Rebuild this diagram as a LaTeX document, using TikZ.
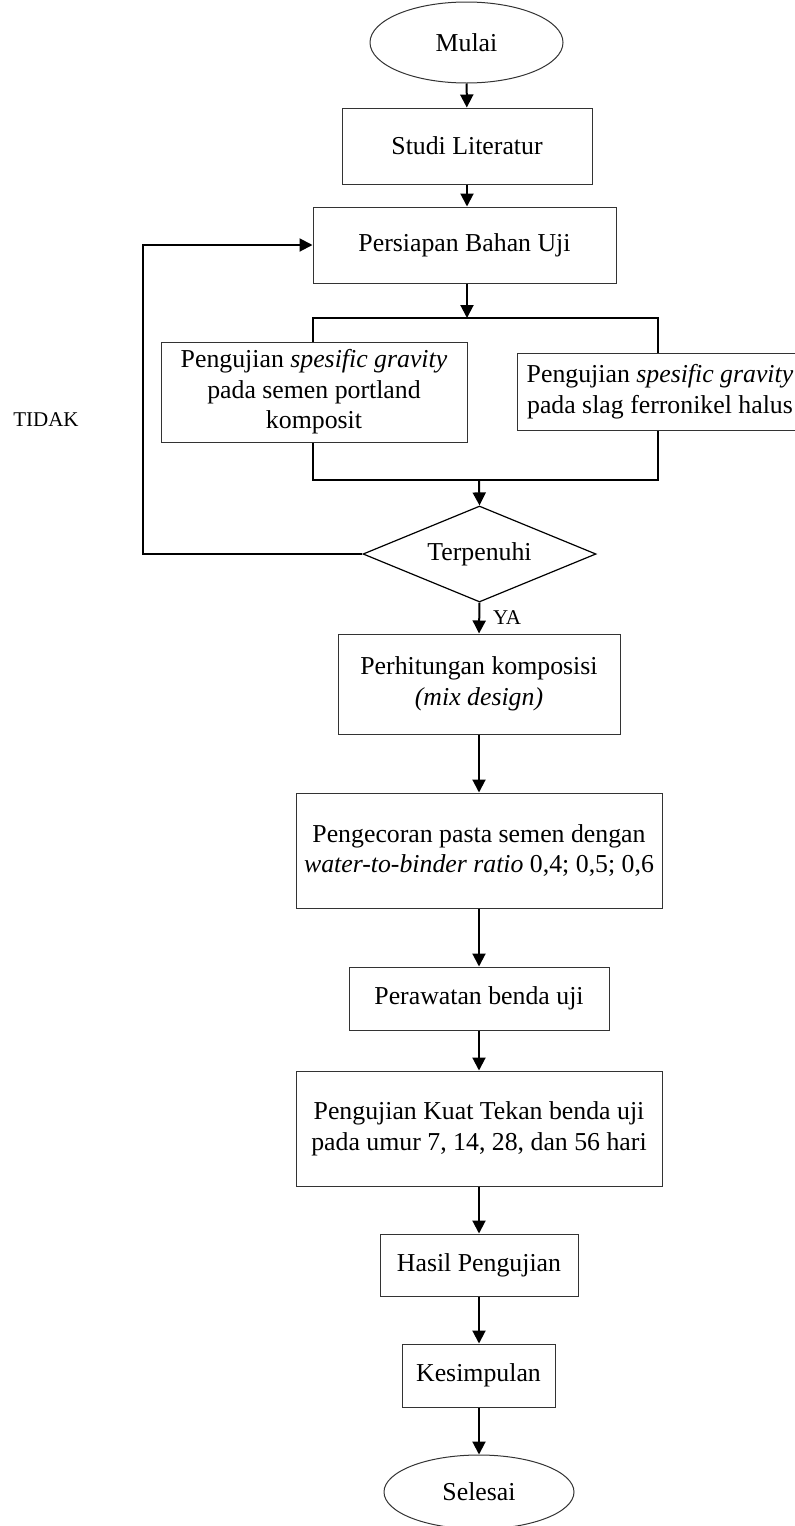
\documentclass[tikz,border=0pt]{standalone}
\usepackage{fontspec}
\setmainfont{Liberation Serif}
\usepackage{tikz}
\usetikzlibrary{arrows.meta,shapes.geometric,calc,positioning}
\tikzstyle{process} = [rectangle, draw=black!80, line width=0.5pt, fill=white, align=center, inner sep=0pt, font=\fontsize{12.9pt}{15.3pt}\selectfont]
\tikzstyle{startstop} = [ellipse, draw=black!80, line width=0.5pt, fill=white, inner sep=0pt, font=\fontsize{12.9pt}{15.3pt}\selectfont]
\tikzstyle{decision} = [diamond, aspect=2.4, draw=black, line width=0.6pt, fill=white, inner sep=0pt, font=\fontsize{12.9pt}{15.3pt}\selectfont]
\tikzstyle{smalltext} = [inner sep=0pt, font=\fontsize{10.5pt}{12pt}\selectfont]
\tikzstyle{line} = [black, draw, line width=1pt]
\tikzstyle{arrow} = [black, draw, line width=1pt, -{Triangle[width=6.5pt,length=6.5pt]}]

\begin{document}
\begin{tikzpicture}[x=0.5pt, y=-0.5pt]
            \useasboundingbox (0,0) rectangle (794,1526);

            \node[startstop, minimum width=96.5pt, minimum height=40.5pt] (Mulai) at (466.5,42.5) {Mulai};
            \node[process, minimum width=125pt, minimum height=38pt] (Studi) at (467,146) {Studi Literatur};
            \node[process, minimum width=151.5pt, minimum height=38pt] (Persiapan) at (464.5,245) {Persiapan Bahan Uji};

            % kotak pengujian bahan
            \coordinate (BrNW) at (313,318);
            \coordinate (BrSE) at (658,480);
            \coordinate (BrOut) at (479,480);
            \path [line] (BrNW) rectangle (BrSE);
            \node[process, minimum width=153pt, minimum height=50pt] (UjiSemen) at (314,392)
                {Pengujian \textit{spesific gravity}\\pada semen portland\\komposit};
            \node[process, minimum width=143pt, minimum height=38.5pt] (UjiSlag) at (660,391.5)
                {Pengujian \textit{spesific gravity}\\pada slag ferronikel halus};

            \node[decision, minimum width=116.5pt, minimum height=48pt] (Cek) at (479.5,554) {Terpenuhi};
            \coordinate (Balik) at (143,554);
            \node[smalltext] (Tidak) at (46,420) {TIDAK};
            \node[smalltext] (Ya) at (507,618) {YA};

            \node[process, minimum width=141pt, minimum height=50pt] (MixDesign) at (479,684)
                {Perhitungan komposisi\\\textit{(mix design)}};
            \node[process, minimum width=183pt, minimum height=57.5pt] (Cor) at (479,850.5)
                {Pengecoran pasta semen dengan\\\textit{water-to-binder ratio} 0,4; 0,5; 0,6};
            \node[process, minimum width=130pt, minimum height=31.5pt] (Rawat) at (479,998.5) {Perawatan benda uji};
            \node[process, minimum width=183pt, minimum height=57.5pt] (Tekan) at (479,1128.5)
                {Pengujian Kuat Tekan benda uji\\pada umur 7, 14, 28, dan 56 hari};
            \node[process, minimum width=99pt, minimum height=31pt] (Hasil) at (479,1265) {Hasil Pengujian};
            \node[process, minimum width=76.5pt, minimum height=31.5pt] (Simpul) at (478.5,1375.5) {Kesimpulan};
            \node[startstop, minimum width=95pt, minimum height=37pt] (Selesai) at (479,1492) {Selesai};

            % panah
            \draw [arrow] (Mulai) -- (Studi);
            \draw [arrow] (Studi) -- (Studi |- Persiapan.north);
            \draw [arrow] (Studi |- Persiapan.south) -- (Studi |- BrNW);
            \draw [arrow] (BrOut) -- (Cek.north);
            \draw [arrow] (Cek.west) -- (Balik) |- (Persiapan.west);
            \draw [arrow] (Cek.south) -- (MixDesign.north);
            \draw [arrow] (MixDesign) -- (Cor);
            \draw [arrow] (Cor) -- (Rawat);
            \draw [arrow] (Rawat) -- (Tekan);
            \draw [arrow] (Tekan) -- (Hasil);
            \draw [arrow] (Hasil) -- (Simpul.north -| Hasil.south);
            \draw [arrow] (Simpul.south -| Selesai.north) -- (Selesai);

        \end{tikzpicture}
\end{document}
